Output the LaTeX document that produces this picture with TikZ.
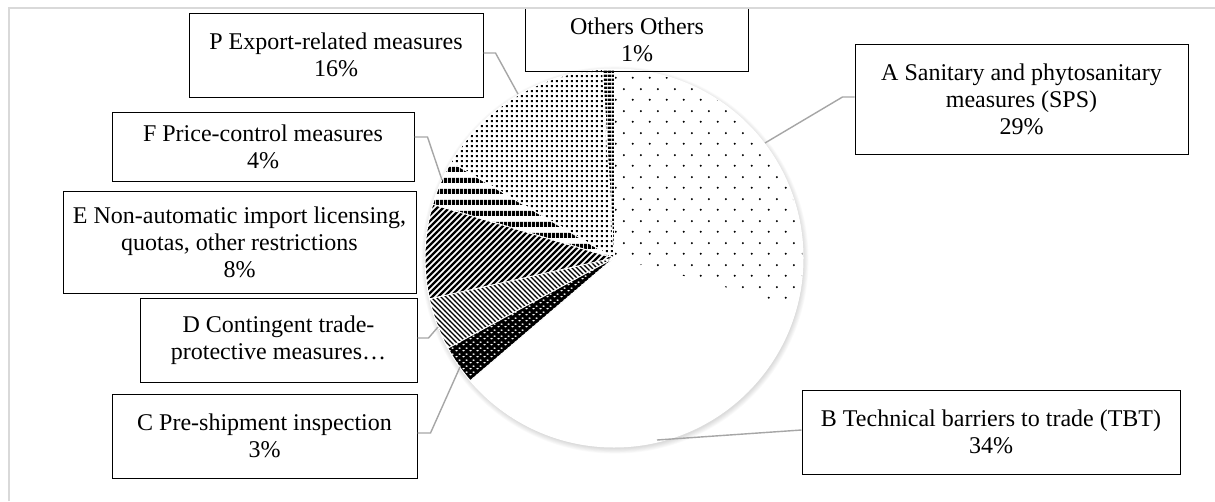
\documentclass[tikz,border=0pt]{standalone}
\usepackage{fontspec}
\setmainfont{Liberation Serif}
\usetikzlibrary{patterns}

\pgfdeclarepatternformonly{sparsedots}{\pgfpointorigin}{\pgfpoint{17pt}{22pt}}{\pgfpoint{17pt}{22pt}}{%
  \pgfpathcircle{\pgfpoint{4pt}{5.5pt}}{1.15pt}%
  \pgfpathcircle{\pgfpoint{12.5pt}{16.5pt}}{1.15pt}%
  \pgfusepath{fill}}
\pgfdeclarepatternformonly{densedots}{\pgfpointorigin}{\pgfpoint{4.5pt}{4.5pt}}{\pgfpoint{4.5pt}{4.5pt}}{%
  \pgfpathrectangle{\pgfpoint{1pt}{1pt}}{\pgfpoint{2.2pt}{2.2pt}}%
  \pgfusepath{fill}}
\pgfdeclarepatternformonly{ovaldots}{\pgfpointorigin}{\pgfpoint{7pt}{6pt}}{\pgfpoint{7pt}{6pt}}{%
  \pgfpathellipse{\pgfpoint{1.75pt}{1.5pt}}{\pgfpoint{1.5pt}{0pt}}{\pgfpoint{0pt}{0.9pt}}%
  \pgfpathellipse{\pgfpoint{5.25pt}{4.5pt}}{\pgfpoint{1.5pt}{0pt}}{\pgfpoint{0pt}{0.9pt}}%
  \pgfusepath{fill}}
\pgfdeclarepatternformonly{thinnw}{\pgfpoint{-1pt}{-1pt}}{\pgfpoint{6pt}{6pt}}{\pgfpoint{5pt}{5pt}}{%
  \pgfsetlinewidth{1.2pt}%
  \pgfpathmoveto{\pgfpoint{-0.1pt}{5.1pt}}\pgfpathlineto{\pgfpoint{5.1pt}{-0.1pt}}%
  \pgfusepath{stroke}}
\pgfdeclarepatternformonly{thickne}{\pgfpoint{-1.5pt}{-1.5pt}}{\pgfpoint{7.5pt}{7.5pt}}{\pgfpoint{6pt}{6pt}}{%
  \pgfsetlinewidth{2.3pt}%
  \pgfpathmoveto{\pgfpoint{-0.1pt}{-0.1pt}}\pgfpathlineto{\pgfpoint{6.1pt}{6.1pt}}%
  \pgfusepath{stroke}}
\pgfdeclarepatternformonly{widehoriz}{\pgfpointorigin}{\pgfpoint{4pt}{10.5pt}}{\pgfpoint{4pt}{10.5pt}}{%
  \pgfpathrectangle{\pgfpointorigin}{\pgfpoint{4pt}{5.3pt}}%
  \pgfusepath{fill}}
\pgfdeclarepatternformonly{narrowhoriz}{\pgfpointorigin}{\pgfpoint{4pt}{4pt}}{\pgfpoint{4pt}{4pt}}{%
  \pgfpathrectangle{\pgfpointorigin}{\pgfpoint{4pt}{2.8pt}}%
  \pgfusepath{fill}}

\begin{document}
\begin{tikzpicture}[x=1pt,y=-1pt,
  box/.style={draw=black, line width=1pt, fill=white, align=center, inner sep=0pt,
    font=\fontsize{24}{27}\selectfont},
  lbl/.style={align=center, inner sep=0pt, font=\fontsize{24}{27}\selectfont},
  leader/.style={draw=gray!70, line width=1.4pt},
  border/.style={draw=white, line width=1pt},
  frame/.style={draw=gray!30, line width=2pt}]
\useasboundingbox (0,0) rectangle (1215,501);
\fill[white] (0,0) rectangle (1215,501);
\draw[frame] (9,501) -- (9,8) -- (1215,8);

\coordinate (c) at (614,258);
% soft shadow
\foreach \i in {1,...,7}
  \fill[black, opacity=0.02] ([shift={(1,2)}]c) circle[radius=188+\i*0.8];
\fill[white] (c) circle[radius=189];

% slices
\fill[pattern=sparsedots] (c) -- ++(-90:189) arc[start angle=-90, end angle=15, radius=189] -- cycle;
\fill[black] (c) -- ++(139.5:189) arc[start angle=139.5, end angle=151.5, radius=189] -- cycle;
\fill[pattern=ovaldots, pattern color=white] (c) -- ++(139.5:189) arc[start angle=139.5, end angle=151.5, radius=189] -- cycle;
\fill[pattern=thinnw] (c) -- ++(151.5:189) arc[start angle=151.5, end angle=167.5, radius=189] -- cycle;
\fill[pattern=thickne] (c) -- ++(167.5:189) arc[start angle=167.5, end angle=196.5, radius=189] -- cycle;
\fill[pattern=widehoriz] (c) -- ++(196.5:189) arc[start angle=196.5, end angle=210.5, radius=189] -- cycle;
\fill[pattern=densedots] (c) -- ++(210.5:189) arc[start angle=210.5, end angle=266.5, radius=189] -- cycle;
\fill[pattern=narrowhoriz] (c) -- ++(266.5:189) arc[start angle=266.5, end angle=270, radius=189] -- cycle;
% slice borders
\foreach \a in {-90,15,139.5,151.5,167.5,196.5,210.5,266.5}
  \draw[border] (c) -- ++(\a:189);
\draw[border] (c) circle[radius=189];

% leader end points on the pie
\coordinate (pA) at (765,143);
\coordinate (pB) at (657,440);
\coordinate (pC) at (460,367);
\coordinate (pD) at (438,327);
\coordinate (pF) at (442,180);
\coordinate (pP) at (518,94);

% labels
\node[box, minimum width=294, minimum height=84] (P) at (336,55) {P Export-related measures\\16\%};
\node[lbl, minimum width=222, minimum height=62] (O) at (637,40) {Others Others\\1\%};
\draw[line width=1pt] (O.north west) -- (O.south west) -- (O.south east) -- (O.north east);
\node[box, minimum width=333, minimum height=110] (A) at (1021.5,99) {A Sanitary and phytosanitary\\measures (SPS)\\29\%};
\node[box, minimum width=302, minimum height=69] (F) at (263,146.5) {F Price-control measures\\4\%};
\node[box, minimum width=353, minimum height=102] (E) at (239.5,242) {E Non-automatic import licensing,\\quotas, other restrictions\\8\%};
\node[box, minimum width=277, minimum height=84] (D) at (278.5,340) {D Contingent trade-\\protective measures…};
\node[box, minimum width=305, minimum height=84] (C) at (264.5,436) {C Pre-shipment inspection\\3\%};
\node[box, minimum width=378, minimum height=84] (B) at (991,432) {B Technical barriers to trade (TBT)\\34\%};

% leaders
\draw[leader] ([yshift=2pt]A.west) -- ++(-12,0) -- (pA);
\draw[leader] ([yshift=2pt]B.west) -- (pB);
\draw[leader] ([yshift=3pt]C.east) -- ++(13,0) -- (pC);
\draw[leader] ([yshift=2pt]D.east) -- ++(11,0) -- (pD);
\draw[leader] ([yshift=9.5pt]F.east) -- ++(13,0) -- (pF);
\draw[leader] ([yshift=2pt]P.east) -- ++(12,0) -- (pP);
\end{tikzpicture}
\end{document}
